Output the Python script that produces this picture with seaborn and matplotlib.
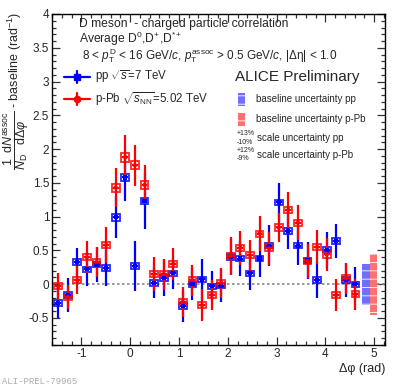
import numpy as np
import pandas as pd
import matplotlib
matplotlib.use("Agg")
import matplotlib.pyplot as plt
from matplotlib.patches import Rectangle
from matplotlib.ticker import MultipleLocator
import seaborn as sns

# ---------------- data ----------------
dphi = [-1.473, -1.276, -1.080, -0.884, -0.687, -0.491, -0.295, -0.098,
        0.098, 0.295, 0.491, 0.687, 0.884, 1.080, 1.276, 1.473,
        1.669, 1.865, 2.062, 2.258, 2.454, 2.651, 2.847, 3.043,
        3.240, 3.436, 3.633, 3.829, 4.025, 4.222, 4.418, 4.614]
pp_val = [-0.28, -0.16, 0.33, 0.22, 0.29, 0.24, 0.99, 1.58,
          0.27, 1.23, 0.02, 0.09, 0.16, -0.32, 0.00, 0.07,
          -0.03, -0.02, 0.40, 0.38, 0.16, 0.38, 0.57, 1.21,
          0.79, 0.57, 0.35, 0.06, 0.51, 0.64, 0.06, 0.00]
pp_err = [0.22, 0.25, 0.21, 0.25, 0.26, 0.26, 0.31, 0.35,
          0.37, 0.41, 0.23, 0.27, 0.23, 0.24, 0.24, 0.30,
          0.22, 0.24, 0.27, 0.26, 0.25, 0.27, 0.30, 0.29,
          0.27, 0.28, 0.27, 0.27, 0.27, 0.25, 0.25, 0.25]
ppb_val = [-0.03, -0.19, 0.06, 0.40, 0.33, 0.58, 1.43, 1.88,
           1.76, 1.47, 0.15, 0.15, 0.30, -0.26, 0.06, -0.31,
           -0.16, 0.02, 0.42, 0.54, 0.43, 0.75, 0.53, 0.84,
           1.10, 0.91, 0.34, 0.55, 0.44, -0.16, 0.09, -0.15]
ppb_err = [0.20, 0.18, 0.21, 0.24, 0.22, 0.27, 0.29, 0.33,
           0.30, 0.29, 0.25, 0.23, 0.24, 0.22, 0.23, 0.24,
           0.22, 0.22, 0.28, 0.25, 0.23, 0.26, 0.25, 0.22,
           0.27, 0.26, 0.25, 0.25, 0.25, 0.24, 0.23, 0.23]
pp_sys = [0.04] * 6 + [0.05, 0.05, 0.04, 0.05] + [0.04] * 22
ppb_sys = [0.045] * 6 + [0.06, 0.065, 0.06, 0.06] + [0.045] * 22
# baseline uncertainty bands (low, high)
pp_base = (-0.31, 0.30)
ppb_base = (-0.45, 0.44)

series_labels = ["pp", "p-Pb"]
BLUE = "#0000ff"
RED = "#ff0000"

# ---------------- style ----------------
sns.set_theme(style="ticks")
plt.rcParams["font.family"] = ["Liberation Sans", "DejaVu Sans"]
plt.rcParams["mathtext.fontset"] = "custom"
plt.rcParams["mathtext.rm"] = "Liberation Sans"
plt.rcParams["mathtext.it"] = "Liberation Sans:italic"
plt.rcParams["mathtext.bf"] = "Liberation Sans:bold"
plt.rcParams["hatch.linewidth"] = 0.6

W, H = 399, 386
fig = plt.figure(figsize=(W / 100, H / 100), dpi=100)
fig.patch.set_facecolor("white")


def fx(x):
    return x / W


def fy(y):
    return 1 - y / H


ax = fig.add_axes([fx(52), fy(345), (385 - 52) / W, (345 - 14) / H])
ax.set_facecolor("white")
ax.set_xlim(-1.6, 5.22)
ax.set_ylim(-0.9, 4.0)

# zero line
ax.axhline(0, color="#888888", lw=1.2, ls=(0, (1.5, 1.5)), zorder=1)

df = pd.DataFrame({
    "dphi": dphi * 2,
    "val": pp_val + ppb_val,
    "system": [series_labels[0]] * len(dphi) + [series_labels[1]] * len(dphi),
})

bw = 0.08
for vals, errs, syss, col in [(pp_val, pp_err, pp_sys, BLUE),
                              (ppb_val, ppb_err, ppb_sys, RED)]:
    for x, v, s in zip(dphi, vals, syss):
        ax.add_patch(Rectangle((x - bw, v - s), 2 * bw, 2 * s, fill=False,
                               edgecolor=col, lw=1.3, alpha=0.85, zorder=3))
    ax.errorbar(dphi, vals, yerr=errs, xerr=0.06, fmt="none", ecolor=col,
                elinewidth=1.6, capsize=0, zorder=4)

sns.scatterplot(data=df, x="dphi", y="val", hue="system", style="system",
                markers={"pp": "s", "p-Pb": "o"},
                palette={"pp": BLUE, "p-Pb": RED}, s=9, linewidth=0,
                legend=False, ax=ax, zorder=5)

# baseline uncertainty bands at right
for (lo, hi), x0, col in [(pp_base, 4.75, "#6f6fff"), (ppb_base, 4.905, "#ff7070")]:
    ax.add_patch(Rectangle((x0, lo), 0.155, hi - lo, facecolor=col,
                           edgecolor="none", zorder=2))
    ax.add_patch(Rectangle((x0, lo), 0.155, hi - lo, facecolor="none",
                           edgecolor="white", hatch="--", lw=0, zorder=2))

# axes styling
for sp in ax.spines.values():
    sp.set_visible(True)
    sp.set_color("black")
    sp.set_linewidth(1.0)
ax.xaxis.set_major_locator(MultipleLocator(1))
ax.xaxis.set_minor_locator(MultipleLocator(0.2))
ax.yaxis.set_major_locator(MultipleLocator(0.5))
ax.yaxis.set_minor_locator(MultipleLocator(0.1))
ax.tick_params(which="both", direction="in", top=True, right=True,
               color="#333333", width=0.9)
ax.tick_params(which="major", length=6)
ax.tick_params(which="minor", length=3.2)
ax.tick_params(axis="y", which="major", labelsize=8.5, pad=2)
ax.tick_params(axis="x", which="major", labelsize=8.5, pad=2.5)
ax.set_yticks([-0.5, 0, 0.5, 1, 1.5, 2, 2.5, 3, 3.5, 4])
ax.set_yticklabels(["-0.5", "0", "0.5", "1", "1.5", "2", "2.5", "3", "3.5", "4"])
ax.set_xticks([-1, 0, 1, 2, 3, 4, 5])
ax.set_xticklabels(["-1", "0", "1", "2", "3", "4", "5"])
ax.set_xlabel("")
ax.set_ylabel("")

# axis titles
fig.text(fx(385), fy(369), "Δφ (rad)", ha="right", va="center", fontsize=9)
fig.text(fx(16), fy(12),
         r"$\dfrac{1}{N_{\rm D}}\dfrac{{\rm d}N^{\rm assoc}}{{\rm d}\Delta\varphi}$ - baseline (rad$^{-1}$)",
         rotation=90, ha="center", va="top", fontsize=9)

# header texts
fig.text(fx(79), fy(24), "D meson  - charged particle correlation",
         ha="left", va="center", fontsize=8.7)
fig.text(fx(79), fy(39), r"Average D$^{0}$,D$^{+}$,D$^{*+}$",
         ha="left", va="center", fontsize=8.7)
fig.text(fx(82), fy(56),
         r"8 < $p_{\rm T}^{\rm D}$ < 16 GeV/$c$, $p_{\rm T}^{\rm assoc}$ > 0.5 GeV/$c$, |Δη| < 1.0",
         ha="left", va="center", fontsize=8.5)
fig.text(fx(235), fy(77), "ALICE Preliminary", ha="left", va="center",
         fontsize=11)

# legend for the two systems
for yy, col, mk, lab in [(77, BLUE, "s", r"pp $\sqrt{s}$=7 TeV"),
                         (99, RED, "o", r"p-Pb $\sqrt{s_{\rm NN}}$=5.02 TeV")]:
    fig.add_artist(plt.Line2D([fx(64), fx(90)], [fy(yy), fy(yy)], color=col,
                              lw=1.6, transform=fig.transFigure))
    fig.add_artist(plt.Line2D([fx(77), fx(77)], [fy(yy - 6), fy(yy + 6)],
                              color=col, lw=1.6, transform=fig.transFigure))
    fig.add_artist(plt.Line2D([fx(77)], [fy(yy)], color=col, marker=mk,
                              markersize=4.5, lw=0, transform=fig.transFigure))
    fig.text(fx(95), fy(yy), lab, ha="left", va="center", fontsize=8.3)

# baseline-uncertainty legend boxes
for yy, col, lab in [(99, "#6f6fff", "baseline uncertainty pp"),
                     (119, "#ff7070", "baseline uncertainty p-Pb")]:
    r = Rectangle((fx(238), fy(yy + 6.5)), 7 / W, 13 / H, facecolor=col,
                  edgecolor="none", transform=fig.transFigure)
    fig.add_artist(r)
    r2 = Rectangle((fx(238), fy(yy + 6.5)), 7 / W, 13 / H, facecolor="none",
                   edgecolor="white", hatch="++", lw=0, transform=fig.transFigure)
    fig.add_artist(r2)
    fig.text(fx(256), fy(yy), lab, ha="left", va="center", fontsize=7)

# scale uncertainty texts
fig.text(fx(237), fy(133.5), "+13%", ha="left", va="center", fontsize=5)
fig.text(fx(237), fy(142), "-10%", ha="left", va="center", fontsize=5)
fig.text(fx(257), fy(138), "scale uncertainty pp", ha="left", va="center",
         fontsize=7)
fig.text(fx(237), fy(150), "+12%", ha="left", va="center", fontsize=5)
fig.text(fx(237), fy(158.5), "-9%", ha="left", va="center", fontsize=5)
fig.text(fx(257), fy(154.5), "scale uncertainty p-Pb", ha="left", va="center",
         fontsize=7)

# watermark
fig.text(fx(2), fy(381), "ALI-PREL-79965", ha="left", va="center",
         fontsize=6.4, family="Liberation Mono", color="#aaaaaa")

fig.savefig("out.png", dpi=100, facecolor="white")
